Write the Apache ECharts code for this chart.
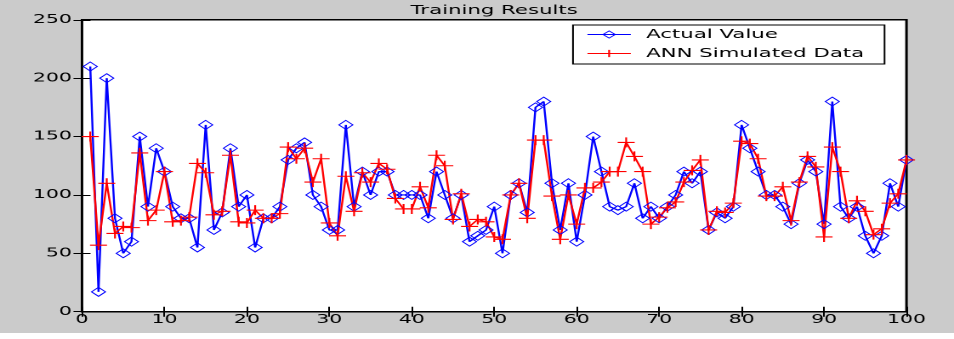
<!DOCTYPE html>
<html>
<head>
<meta charset="utf-8">
<script src="https://cdn.jsdelivr.net/npm/echarts@6/dist/echarts.min.js"></script>
<style>
  html, body { margin: 0; padding: 0; background: #ffffff; overflow: hidden; }
  #wrap { width: 954px; height: 339px; overflow: hidden; }
  /* the figure is laid out on a narrow canvas and widened horizontally */
  #chart { width: 561px; height: 339px; transform: scaleX(1.70053); transform-origin: 0 0; }
</style>
</head>
<body>
<div id="wrap"><div id="chart"></div></div>
<script>
// sample number of each training pattern
const samples = [
  1, 2, 3, 4, 5, 6, 7, 8, 9, 10,
  11, 12, 13, 14, 15, 16, 17, 18, 19, 20,
  21, 22, 23, 24, 25, 26, 27, 28, 29, 30,
  31, 32, 33, 34, 35, 36, 37, 38, 39, 40,
  41, 42, 43, 44, 45, 46, 47, 48, 49, 50,
  51, 52, 53, 54, 55, 56, 57, 58, 59, 60,
  61, 62, 63, 64, 65, 66, 67, 68, 69, 70,
  71, 72, 73, 74, 75, 76, 77, 78, 79, 80,
  81, 82, 83, 84, 85, 86, 87, 88, 89, 90,
  91, 92, 93, 94, 95, 96, 97, 98, 99, 100
];

// measured target values
const actualValue = [
  210, 17, 200, 80, 50, 60, 150, 90, 140, 120,
  90, 80, 80, 55, 160, 70, 85, 140, 90, 100,
  55, 80, 80, 90, 130, 140, 145, 100, 90, 70,
  70, 160, 90, 120, 100, 120, 120, 100, 100, 100,
  100, 80, 120, 100, 80, 100, 60, 65, 70, 90,
  50, 100, 110, 85, 175, 180, 110, 70, 110, 60,
  100, 150, 120, 90, 87, 90, 110, 80, 90, 80,
  90, 100, 120, 110, 120, 70, 85, 80, 90, 160,
  140, 120, 100, 100, 90, 75, 110, 130, 120, 75,
  180, 90, 80, 90, 65, 50, 65, 110, 90, 130
];

// network output for the same patterns
const annSimulated = [
  150, 57, 110, 67, 73, 72, 136, 78, 87, 120,
  77, 78, 81, 127, 119, 83, 86, 134, 77, 76,
  87, 80, 80, 84, 141, 131, 140, 111, 131, 76,
  65, 116, 86, 119, 111, 127, 122, 97, 88, 88,
  107, 89, 134, 125, 79, 101, 73, 79, 77, 64,
  62, 100, 110, 80, 147, 147, 99, 62, 100, 75,
  106, 106, 111, 120, 120, 145, 133, 120, 75, 81,
  89, 94, 111, 121, 130, 70, 86, 85, 93, 146,
  144, 131, 99, 99, 107, 78, 111, 133, 124, 64,
  141, 120, 80, 95, 86, 66, 71, 93, 101, 130
];

const seriesNames = ['Actual Value', 'ANN Simulated Data'];
const chartTitle = 'Training Results';
const xRange = { min: 0, max: 100, step: 10 };
const yRange = { min: 0, max: 250, step: 50 };

const FONT = 'DejaVu Sans';
const BLUE = '#0000ff';
const RED = '#ff0000';
const CLEAR = 'rgba(0,0,0,0)';

const chart = echarts.init(document.getElementById('chart'), null, { renderer: 'canvas', devicePixelRatio: 2 });

const tickCommon = { show: true, inside: true, length: 5, lineStyle: { color: '#000', width: 1 } };

function xAxisDef(pos, labels) {
  return {
    type: 'value', position: pos, min: xRange.min, max: xRange.max, interval: xRange.step,
    axisLine: { show: false },
    axisTick: tickCommon,
    splitLine: { show: false },
    axisLabel: { show: labels, color: '#000', fontFamily: FONT, fontSize: 12, margin: 2 }
  };
}
function yAxisDef(pos, labels) {
  return {
    type: 'value', position: pos, min: yRange.min, max: yRange.max, interval: yRange.step,
    axisLine: { show: false },
    axisTick: tickCommon,
    splitLine: { show: false },
    axisLabel: { show: labels, color: '#000', fontFamily: FONT, fontSize: 12, margin: 6 }
  };
}

const blueMarker = { color: CLEAR, borderColor: BLUE, borderWidth: 0.8 };
const redMarker = { color: CLEAR, borderColor: RED, borderWidth: 1.1 };

const option = {
  animation: false,
  backgroundColor: '#cbcbcb',
  title: {
    text: chartTitle,
    left: 290.6, top: 4, textAlign: 'center', padding: 0,
    textStyle: { fontFamily: FONT, fontSize: 12.5, fontWeight: 'normal', color: '#000' }
  },
  grid: {
    left: 48.22, right: 27.94, top: 19.8, bottom: 27.3,
    containLabel: false, outerBoundsMode: 'none',
    show: true, backgroundColor: '#ffffff', borderColor: '#000000', borderWidth: 1.5
  },
  legend: {
    orient: 'vertical',
    left: 336.95, top: 25,
    backgroundColor: '#ffffff', borderColor: '#000000', borderWidth: 1,
    padding: [3, 12, 4, 8],
    itemWidth: 25.5, itemHeight: 9, itemGap: 6,
    textStyle: { fontFamily: FONT, fontSize: 12.5, color: '#000', padding: [0, 0, 0, 4] },
    data: [
      { name: seriesNames[0], itemStyle: blueMarker, lineStyle: { color: BLUE, width: 1 } },
      { name: seriesNames[1], itemStyle: redMarker, lineStyle: { color: RED, width: 1 } }
    ]
  },
  xAxis: [xAxisDef('bottom', true), xAxisDef('top', false)],
  yAxis: [yAxisDef('left', true), yAxisDef('right', false)],
  graphic: [
    { type: 'rect', left: 0, top: 333, shape: { width: 561, height: 6 }, style: { fill: '#ffffff' }, silent: true }
  ],
  series: [
    {
      name: seriesNames[0], type: 'line', xAxisIndex: 0, yAxisIndex: 0,
      data: samples.map((s, i) => [s, actualValue[i]]),
      symbol: 'diamond', symbolSize: [8.2, 9], showAllSymbol: true,
      lineStyle: { color: BLUE, width: 1.2 },
      itemStyle: blueMarker,
      emphasis: { disabled: true }
    },
    {
      name: seriesNames[1], type: 'line', xAxisIndex: 0, yAxisIndex: 0,
      data: samples.map((s, i) => [s, annSimulated[i]]),
      symbol: 'path://M0,5L10,5M5,0L5,10', symbolSize: [10, 10], showAllSymbol: true,
      lineStyle: { color: RED, width: 1.2 },
      itemStyle: redMarker,
      emphasis: { disabled: true }
    }
  ]
};

chart.setOption(option);
</script>
</body>
</html>
